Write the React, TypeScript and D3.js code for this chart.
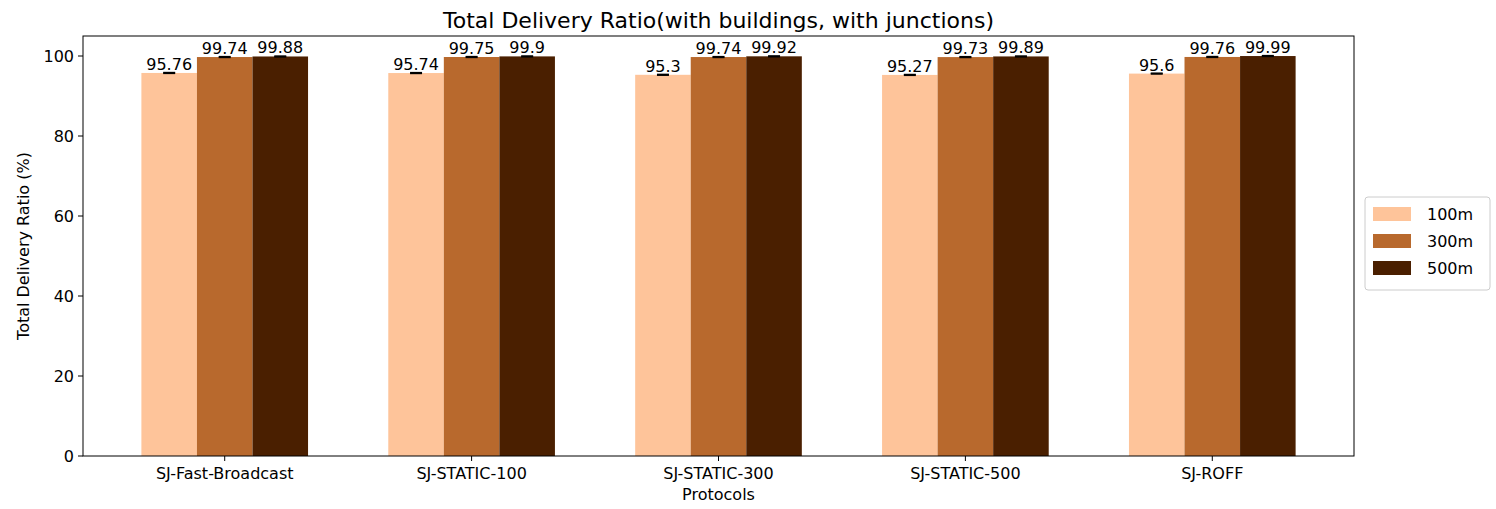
import React from "react"
import * as d3 from "d3"

const protocols = ["SJ-Fast-Broadcast", "SJ-STATIC-100", "SJ-STATIC-300", "SJ-STATIC-500", "SJ-ROFF"]
const seriesNames = ["100m", "300m", "500m"]
const colors = ["#fec49a", "#b8692d", "#4a1f00"]
const values100 = [95.76, 95.74, 95.3, 95.27, 95.6]
const values300 = [99.74, 99.75, 99.74, 99.73, 99.76]
const values500 = [99.88, 99.9, 99.92, 99.89, 99.99]
const errors = [0.1, 0.1, 0.1]
const yTicks = [0, 20, 40, 60, 80, 100]

function App() {
    const series = [values100, values300, values500]
    const left = 83, right = 1354, top = 36, bottom = 456
    const x = d3.scaleLinear().domain([-0.574, 4.574]).range([left, right])
    const y = d3.scaleLinear().domain([0, 105]).range([bottom, top])
    const bw = 0.225
    const font = "DejaVu Sans, sans-serif"

    return (
        <svg width={1496} height={509} style={{ position: "absolute", left: 0, top: 0 }} fontFamily={font}>
            <rect width={1496} height={509} fill="white" />
            <text x={(left + right) / 2} y={28} textAnchor="middle" fontSize={22}>Total Delivery Ratio(with buildings, with junctions)</text>
            {series.map((vals, si) =>
                vals.map((v, i) => {
                    const cx = x(i + (si - 1) * bw)
                    const x0 = x(i + (si - 1) * bw - bw / 2)
                    const x1 = x(i + (si - 1) * bw + bw / 2)
                    return (
                        <g key={si + "-" + i}>
                            <rect x={x0} y={y(v)} width={x1 - x0} height={bottom - y(v)} fill={colors[si]} />
                            <line x1={cx} x2={cx} y1={y(v + errors[si])} y2={y(v - errors[si])} stroke="black" strokeWidth={1.5} />
                            <line x1={cx - 6} x2={cx + 6} y1={y(v + errors[si])} y2={y(v + errors[si])} stroke="black" strokeWidth={1.5} />
                            <line x1={cx - 6} x2={cx + 6} y1={y(v - errors[si])} y2={y(v - errors[si])} stroke="black" strokeWidth={1.5} />
                            <text x={cx} y={y(v) - 3} textAnchor="middle" fontSize={16}>{v}</text>
                        </g>
                    )
                })
            )}
            <rect x={left} y={top} width={right - left} height={bottom - top} fill="none" stroke="black" strokeWidth={1} />
            {yTicks.map(t => (
                <g key={t}>
                    <line x1={left - 5} x2={left} y1={y(t)} y2={y(t)} stroke="black" />
                    <text x={left - 9} y={y(t) + 6} textAnchor="end" fontSize={16}>{t}</text>
                </g>
            ))}
            {protocols.map((p, i) => (
                <g key={p}>
                    <line x1={x(i)} x2={x(i)} y1={bottom} y2={bottom + 5} stroke="black" />
                    <text x={x(i)} y={bottom + 23} textAnchor="middle" fontSize={16}>{p}</text>
                </g>
            ))}
            <text x={(left + right) / 2} y={500} textAnchor="middle" fontSize={16}>Protocols</text>
            <text transform={`translate(29,${(top + bottom) / 2}) rotate(-90)`} textAnchor="middle" fontSize={16}>Total Delivery Ratio (%)</text>
            <rect x={1365} y={197} width={125} height={93} rx={3} fill="white" stroke="#ccc" />
            {seriesNames.map((n, i) => (
                <g key={n}>
                    <rect x={1373} y={207 + i * 27} width={38} height={14} fill={colors[i]} />
                    <text x={1427} y={220 + i * 27} fontSize={16}>{n}</text>
                </g>
            ))}
        </svg>
    )
}

export default App
